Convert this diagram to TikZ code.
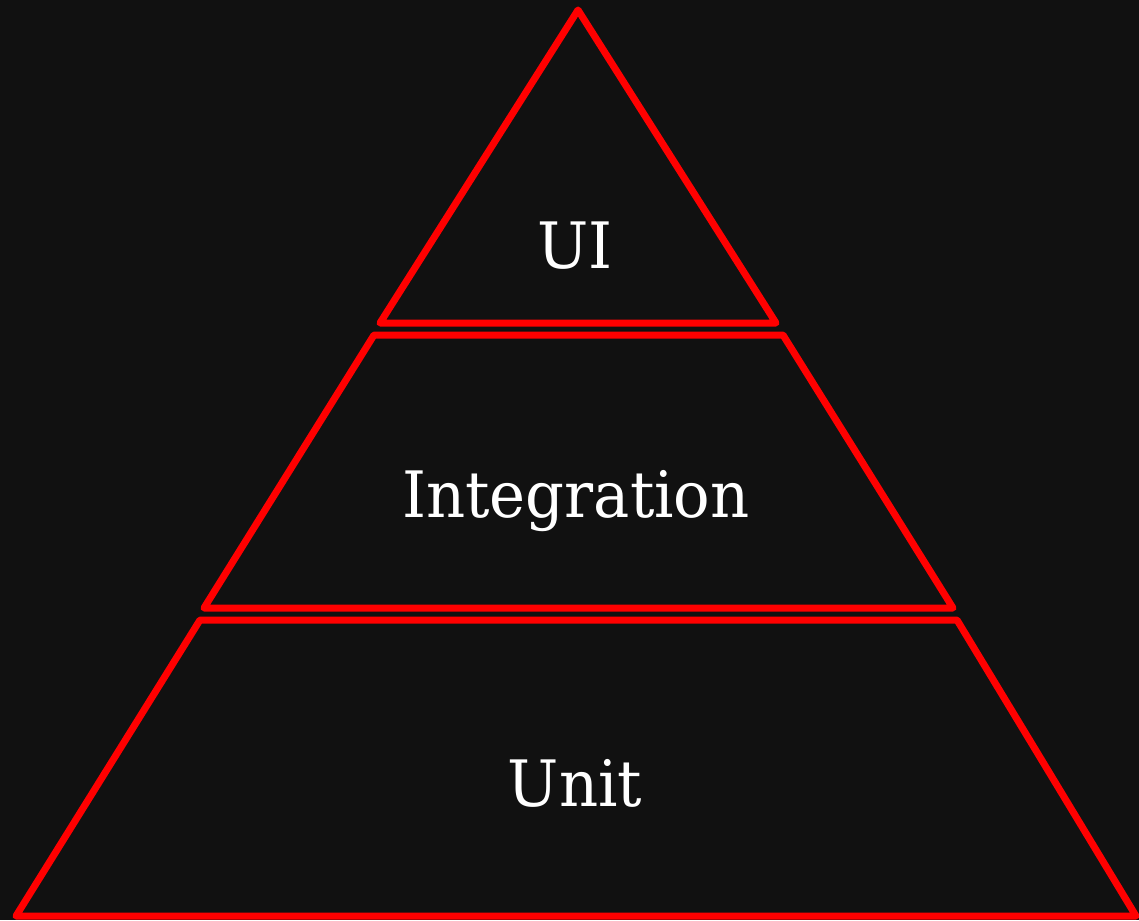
\documentclass[tikz,border=0pt]{standalone}
\usepackage{fontspec}
\setmainfont{DejaVu Serif}
\definecolor{bg}{HTML}{111111}
\definecolor{pyred}{HTML}{FF0000}
\tikzset{
  layer/.style={draw=pyred, line width=7pt, line join=round, line cap=round},
  lbl/.style={text=white, font=\fontsize{64}{70}\selectfont, anchor=base, inner sep=0pt, xscale=0.95}
}
\begin{document}
\begin{tikzpicture}[x=1pt,y=-1pt]
\fill[bg] (0,0) rectangle (1139,920);
\useasboundingbox (0,0) rectangle (1139,920);
% top triangle
\coordinate (t1) at (578,10);
\coordinate (t2) at (776,323);
\coordinate (t3) at (380,323);
\draw[layer] (t1) -- (t2) -- (t3) -- cycle;
% middle trapezoid
\coordinate (m1) at (374,335);
\coordinate (m2) at (783,335);
\coordinate (m3) at (953,608);
\coordinate (m4) at (204,608);
\draw[layer] (m1) -- (m2) -- (m3) -- (m4) -- cycle;
% bottom trapezoid
\coordinate (b1) at (200,620);
\coordinate (b2) at (957,620);
\coordinate (b3) at (1136,916);
\coordinate (b4) at (16,916);
\draw[layer] (b1) -- (b2) -- (b3) -- (b4) -- cycle;
\node[lbl] (ui) at (575,268) {UI};
\node[lbl] (integ) at (576,517) {Integration};
\node[lbl] (unit) at (575,806) {Unit};
\end{tikzpicture}
\end{document}
